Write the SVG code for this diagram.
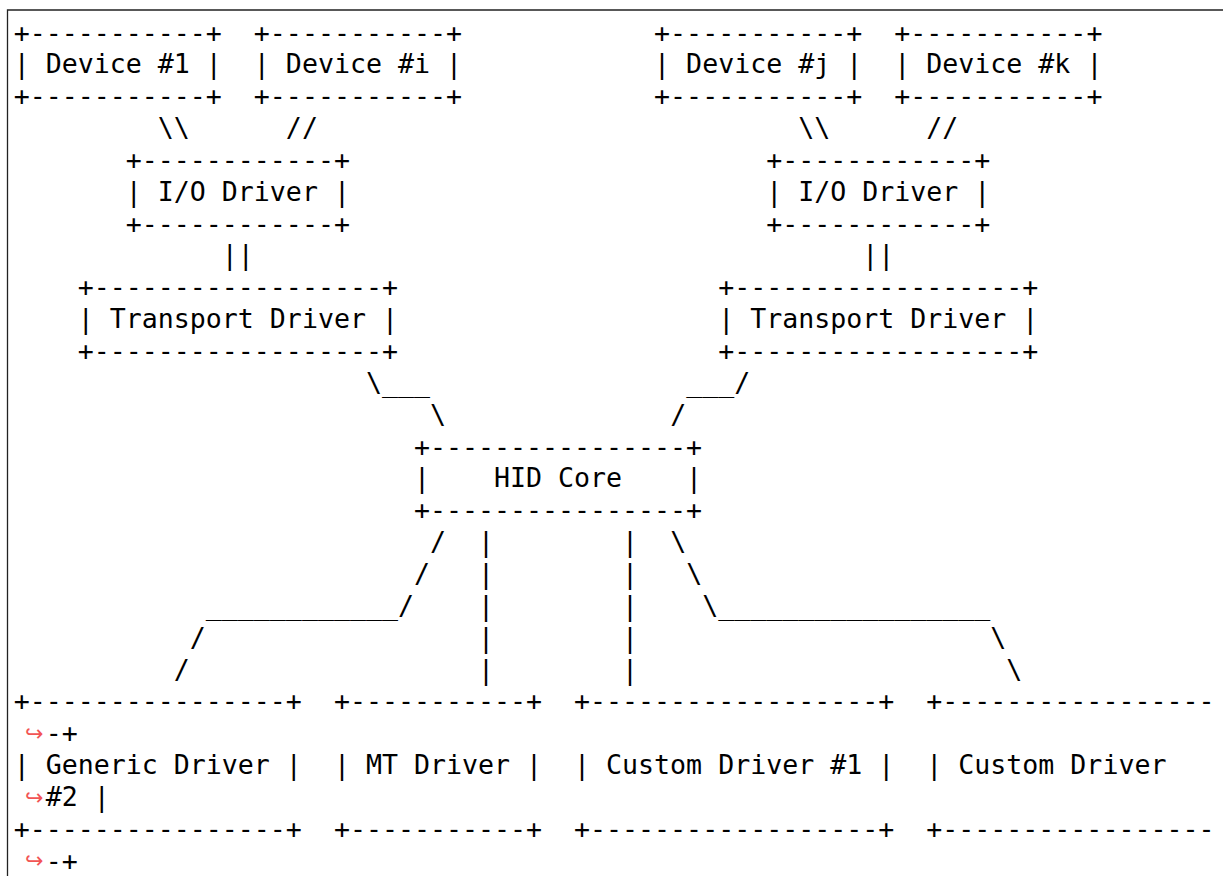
<svg xmlns="http://www.w3.org/2000/svg" width="1223" height="876" viewBox="0 0 1223 876" xml:space="preserve">
<style>
text{font-family:"DejaVu Sans Mono","Liberation Mono",monospace;font-size:26.6px;fill:#000;white-space:pre}
.wrap{font-family:"DejaVu Sans","Noto Sans",sans-serif;font-size:22px;fill:#f25555}
.frame{stroke:#222;stroke-width:1.3;fill:none}
</style>
<rect width="1223" height="876" fill="#fff"/>
<path class="frame" d="M7.5 876V10H1223"/>
<g transform="translate(0,-1.5)">
<g id="device1"><text x="13.7" y="43">+-----------+</text><text x="13.7" y="74.85">| Device #1 |</text><text x="13.7" y="106.7">+-----------+</text></g>
<g id="devicei"><text x="253.85" y="43">+-----------+</text><text x="253.85" y="74.85">| Device #i |</text><text x="253.85" y="106.7">+-----------+</text></g>
<g id="devicej"><text x="654.1" y="43">+-----------+</text><text x="654.1" y="74.85">| Device #j |</text><text x="654.1" y="106.7">+-----------+</text></g>
<g id="devicek"><text x="894.25" y="43">+-----------+</text><text x="894.25" y="74.85">| Device #k |</text><text x="894.25" y="106.7">+-----------+</text></g>
<g id="io-left"><text x="125.77" y="170.4">+------------+</text><text x="125.77" y="202.25">| I/O Driver |</text><text x="125.77" y="234.1">+------------+</text></g>
<g id="io-right"><text x="766.17" y="170.4">+------------+</text><text x="766.17" y="202.25">| I/O Driver |</text><text x="766.17" y="234.1">+------------+</text></g>
<g id="transport-left"><text x="77.74" y="297.8">+------------------+</text><text x="77.74" y="329.65">| Transport Driver |</text><text x="77.74" y="361.5">+------------------+</text></g>
<g id="transport-right"><text x="718.14" y="297.8">+------------------+</text><text x="718.14" y="329.65">| Transport Driver |</text><text x="718.14" y="361.5">+------------------+</text></g>
<g id="hid-core"><text x="413.95" y="457.05">+----------------+</text><text x="413.95" y="488.9">|    HID Core    |</text><text x="413.95" y="520.75">+----------------+</text></g>
<g id="generic-driver"><text x="13.7" y="711.85">+----------------+</text><text x="13.7" y="775.55">| Generic Driver |</text><text x="13.7" y="839.25">+----------------+</text></g>
<g id="mt-driver"><text x="333.9" y="711.85">+-----------+</text><text x="333.9" y="775.55">| MT Driver |</text><text x="333.9" y="839.25">+-----------+</text></g>
<g id="custom-driver-1"><text x="574.05" y="711.85">+------------------+</text><text x="574.05" y="775.55">| Custom Driver #1 |</text><text x="574.05" y="839.25">+------------------+</text></g>
<g id="custom-driver-2">
<text x="926.27" y="711.85">+-----------------</text>
<text class="wrap" x="25" y="742.5">↪</text><text x="45.72" y="743.7">-+</text>
<text x="926.27" y="775.55">| Custom Driver</text>
<text class="wrap" x="25" y="806.2">↪</text><text x="45.72" y="807.4">#2 |</text>
<text x="926.27" y="839.25">+-----------------</text>
<text class="wrap" x="25" y="869.9">↪</text><text x="45.72" y="871.1">-+</text>
</g>
<g id="connectors">
<text x="13.7" y="138.55">         \\      //                              \\      //</text>
<text x="13.7" y="265.95">             ||                                      ||</text>
<text x="13.7" y="393.35">                      \___                ___/</text>
<text x="13.7" y="425.2">                          \              /</text>
<text x="13.7" y="552.6">                          /  |        |  \</text>
<text x="13.7" y="584.45">                         /   |        |   \</text>
<text x="13.7" y="616.3">            ____________/    |        |    \_________________</text>
<text x="13.7" y="648.15">           /                 |        |                      \</text>
<text x="13.7" y="680">          /                  |        |                       \</text>
</g>
</g>
</svg>
